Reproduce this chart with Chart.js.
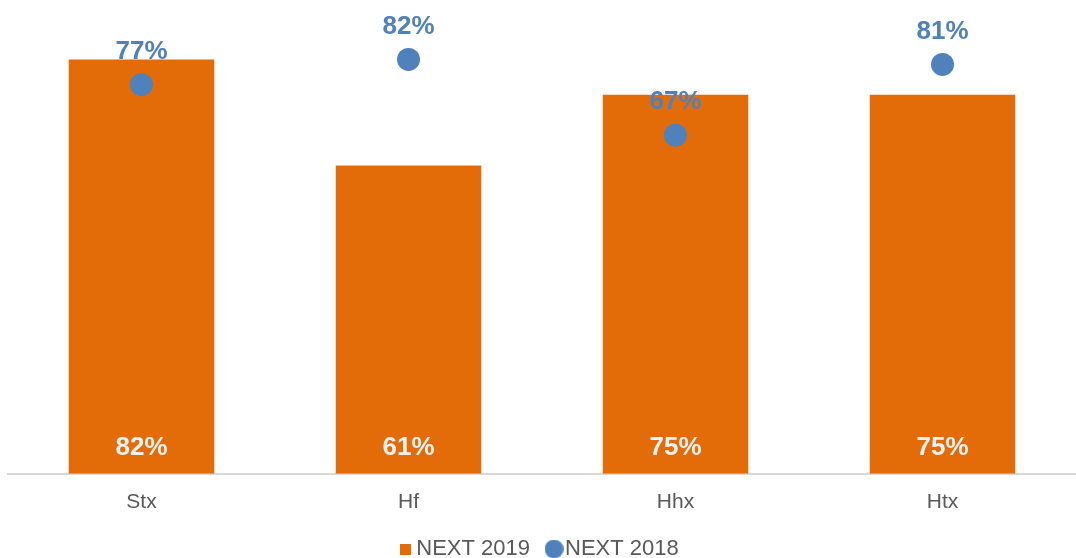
<!DOCTYPE html>
<html>
<head>
<meta charset="utf-8">
<script src="https://cdn.jsdelivr.net/npm/chart.js@4.4.0/dist/chart.umd.min.js"></script>
<style>
  html, body { margin: 0; padding: 0; background: #fff; }
  #wrap { width: 1076px; height: 558px; }
</style>
</head>
<body>
<div id="wrap"><canvas id="myChart"></canvas></div>
<script>
// data
const categories = ['Stx', 'Hf', 'Hhx', 'Htx'];
const next2019 = [82, 61, 75, 75];
const next2018 = [77, 82, 67, 81];

const orange = '#E36C09';
const blue = '#4F81BD';

// small legend markers (square for bars, dot for the 2018 series)
function marker(kind, size, color) {
  const c = document.createElement('canvas');
  c.width = size; c.height = size;
  const g = c.getContext('2d');
  g.fillStyle = color;
  if (kind === 'rect') {
    g.fillRect(0, 0, size, size);
  } else {
    g.beginPath();
    g.arc(size / 2, size / 2, size / 2, 0, Math.PI * 2);
    g.fill();
  }
  return c;
}
const legendMarks = [marker('rect', 11, orange), marker('circle', 19, blue)];

// percent labels: white at bar bottom, blue above the dots
const valueLabels = {
  id: 'valueLabels',
  afterDatasetsDraw(chart) {
    const ctx = chart.ctx;
    const base = chart.scales.y.getPixelForValue(0);
    ctx.save();
    ctx.textAlign = 'center';
    ctx.textBaseline = 'middle';
    ctx.font = 'bold 26px "Liberation Sans", Arial, sans-serif';
    chart.getDatasetMeta(0).data.forEach((bar, i) => {
      ctx.fillStyle = '#F2F2F2';
      ctx.fillText(next2019[i] + '%', bar.x, base - 26);
    });
    chart.getDatasetMeta(1).data.forEach((pt, i) => {
      ctx.fillStyle = blue;
      ctx.fillText(next2018[i] + '%', pt.x, pt.y - 33);
    });
    ctx.restore();
  }
};

var context = document.getElementById('myChart').getContext('2d');
const myChart = new Chart(context, {
  data: {
    labels: categories,
    datasets: [
      {
        type: 'bar',
        label: 'NEXT 2019',
        data: next2019,
        backgroundColor: orange,
        borderWidth: 0,
        barPercentage: 0.545,
        categoryPercentage: 1,
        order: 2
      },
      {
        type: 'line',
        label: 'NEXT 2018',
        data: next2018,
        showLine: false,
        pointStyle: 'circle',
        pointRadius: 11.5,
        pointHoverRadius: 11.5,
        backgroundColor: blue,
        borderColor: blue,
        borderWidth: 0,
        order: 1
      }
    ]
  },
  options: {
    responsive: true,
    maintainAspectRatio: false,
    animation: false,
    layout: { autoPadding: false, padding: { left: 8, right: 0, top: 19, bottom: -12 } },
    scales: {
      x: {
        grid: { display: false, drawTicks: false },
        border: { display: true, color: '#D9D9D9', width: 2 },
        ticks: {
          color: '#595959',
          padding: 8,
          font: { family: '"Liberation Sans", Arial, sans-serif', size: 21, lineHeight: 1.92 }
        },
        afterFit(scale) { scale.height -= 16; }
      },
      y: {
        display: false,
        min: 0,
        max: 90
      }
    },
    plugins: {
      tooltip: { enabled: false },
      legend: {
        position: 'bottom',
        labels: {
          usePointStyle: true,
          pointStyleWidth: 0.01,
          boxHeight: 14,
          padding: 24,
          color: '#595959',
          font: { family: '"Liberation Sans", Arial, sans-serif', size: 22 },
          sort: (a, b) => a.datasetIndex - b.datasetIndex,
          generateLabels(chart) {
            const items = Chart.defaults.plugins.legend.labels.generateLabels(chart);
            items.forEach(it => { it.pointStyle = legendMarks[it.datasetIndex]; });
            return items;
          }
        }
      }
    }
  },
  plugins: [valueLabels]
});
</script>
</body>
</html>
